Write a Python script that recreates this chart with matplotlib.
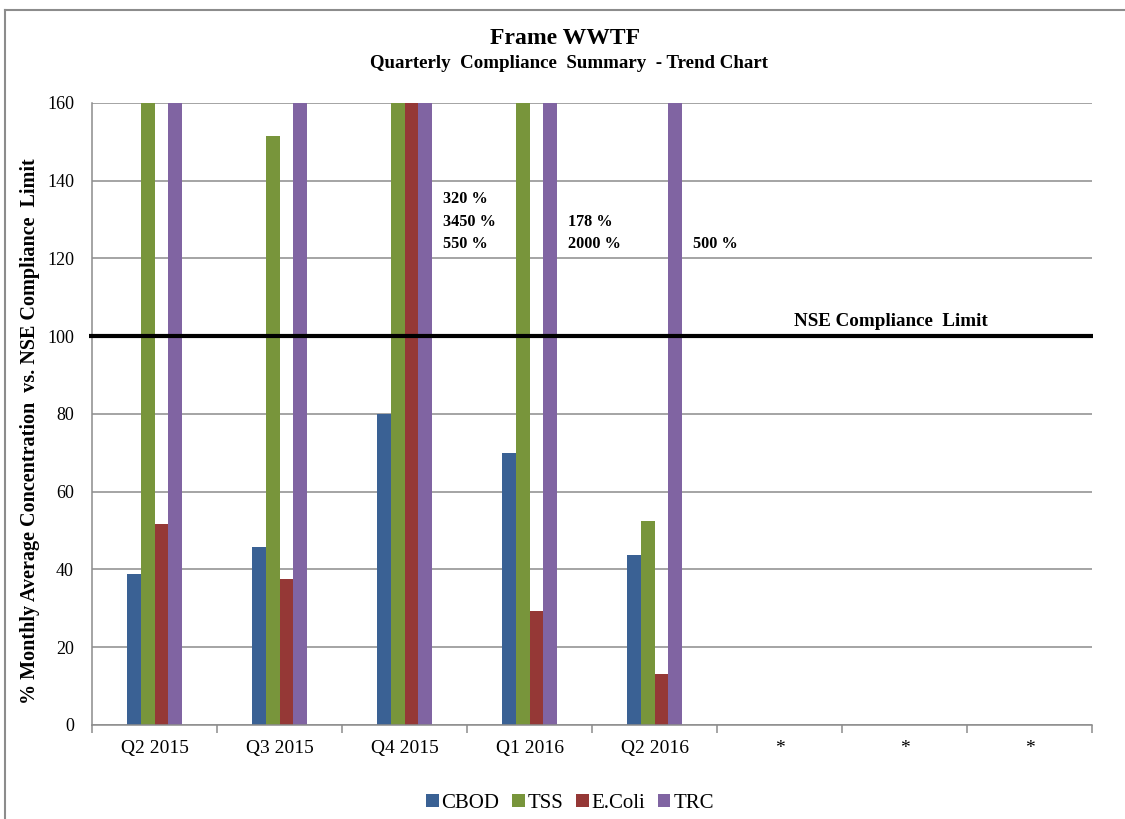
import numpy as np
import matplotlib
matplotlib.use("Agg")
import matplotlib.pyplot as plt
from matplotlib.lines import Line2D
from matplotlib.patches import Patch

plt.rcParams['font.family'] = ['Liberation Serif', 'DejaVu Serif']

# Quarterly results, % of the NSE compliance limit
quarters = ["Q2 2015", "Q3 2015", "Q4 2015", "Q1 2016", "Q2 2016", "*", "*", "*"]
series_names = ["CBOD", "TSS", "E.Coli", "TRC"]
cbod = [38.8, 45.9, 80.0, 70.0, 43.7, np.nan, np.nan, np.nan]
tss = [250.0, 151.5, 320.0, 178.0, 52.5, np.nan, np.nan, np.nan]
ecoli = [51.6, 37.5, 3450.0, 29.3, 13.1, np.nan, np.nan, np.nan]
trc = [400.0, 300.0, 550.0, 2000.0, 500.0, np.nan, np.nan, np.nan]
colors = ["#3A6194", "#78953B", "#953836", "#8064A2"]

# quarters whose off-scale values are written out beside the bars
labelled_quarters = [False, False, True, True, True, False, False, False]

compliance_limit = 100
y_max = 160
y_ticks = [0, 20, 40, 60, 80, 100, 120, 140, 160]

fig = plt.figure(figsize=(11.25, 8.19), dpi=100)
ax = fig.add_axes([0.0818, 0.1148, 0.8889, 0.7595])

values = [cbod, tss, ecoli, trc]
x = np.arange(len(quarters))
bw = 0.11
offsets = (np.arange(len(series_names)) - 1.5) * bw
for vals, off, col, name in zip(values, offsets, colors, series_names):
    ax.bar(x + off, vals, width=bw, color=col, label=name, zorder=2,
           linewidth=0)

# off-scale value labels
for i in range(len(quarters)):
    if not labelled_quarters[i]:
        continue
    over = [v[i] for v in values if not np.isnan(v[i]) and v[i] > y_max]
    for k, v in enumerate(reversed(over)):
        ax.text(i + 0.305, 123.6 + k * 5.8, f"{v:g} %", fontsize=11.7,
                fontweight='bold', ha='left', va='center', zorder=4)

# compliance limit line
ax.plot([-0.003, 1.001], [compliance_limit, compliance_limit],
        transform=ax.get_yaxis_transform(), color='black', lw=3,
        clip_on=False, zorder=3, solid_capstyle='butt')
ax.text(5.116, compliance_limit + 3.9, "NSE Compliance  Limit", fontsize=13.7,
        fontweight='bold', ha='left', va='center', zorder=4)

ax.set_xlim(-0.5, len(quarters) - 0.5)
ax.set_ylim(0, y_max)
ax.set_yticks(y_ticks)
ax.yaxis.grid(True, color='#8C8C8C', lw=1.1, zorder=0)
ax.set_axisbelow(True)
ax.tick_params(axis='y', length=0, pad=13, labelsize=13)

ax.set_xticks(np.arange(len(quarters) + 1) - 0.5)
ax.set_xticklabels([])
ax.set_xticks(x, minor=True)
ax.set_xticklabels(quarters, minor=True, fontsize=14)
ax.tick_params(axis='x', which='major', length=6, color='#8C8C8C', width=1.1)
ax.tick_params(axis='x', which='minor', length=0, pad=11)

for s in ['top', 'right']:
    ax.spines[s].set_visible(False)
for s in ['left', 'bottom']:
    ax.spines[s].set_color('#8C8C8C')
    ax.spines[s].set_linewidth(1.1)

fig.text(30 / 1125, 1 - 431 / 819,
         "% Monthly Average Concentration  vs. NSE Compliance  Limit",
         rotation=90, fontsize=14.5, fontweight='bold', ha='center', va='center')

fig.text(565 / 1125, 1 - 38 / 819, "Frame WWTF", fontsize=17,
         fontweight='bold', ha='center', va='center')
fig.text(569 / 1125, 1 - 64 / 819,
         "Quarterly  Compliance  Summary  - Trend Chart", fontsize=13.6,
         fontweight='bold', ha='center', va='center')

handles = [Patch(facecolor=c, edgecolor='none') for c in colors]
fig.legend(handles, series_names, loc='center', bbox_to_anchor=(570 / 1125, 1 - 803 / 819),
           ncol=4, frameon=False, fontsize=15, handlelength=0.6, handleheight=0.6,
           handletextpad=0.15, columnspacing=0.6, borderaxespad=0)

# chart area frame
fig.add_artist(Line2D([5 / 1125, 1], [1 - 10 / 819] * 2, color='#8C8C8C', lw=1.5))
fig.add_artist(Line2D([5 / 1125] * 2, [0, 1 - 10 / 819], color='#8C8C8C', lw=1.5))

fig.savefig("out.png", dpi=100)
